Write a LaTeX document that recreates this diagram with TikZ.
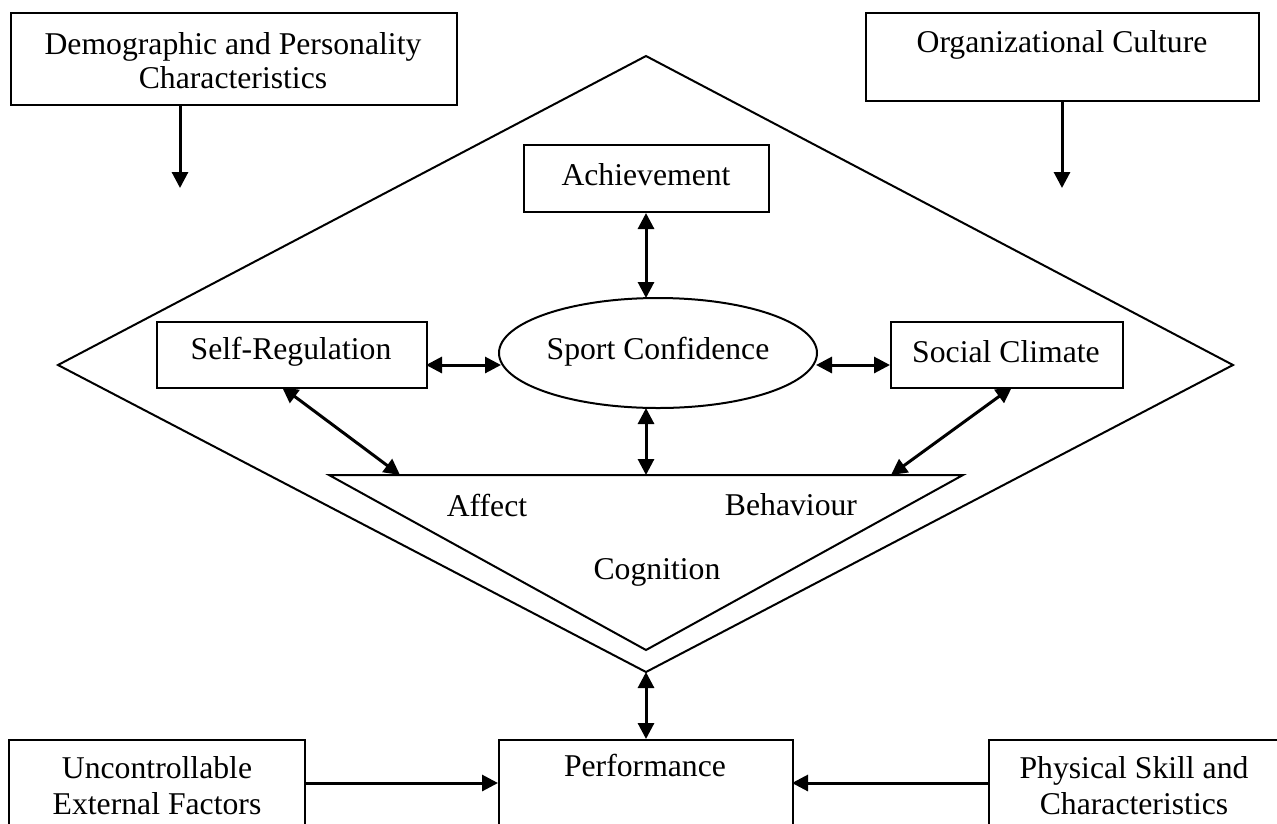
\documentclass[tikz,border=0pt]{standalone}
\usepackage{fontspec}
\setmainfont{Liberation Serif}
\usetikzlibrary{arrows.meta,shapes.geometric}
\begin{document}
\begin{tikzpicture}[x=1pt,y=-1pt,
  box/.style={draw,line width=2pt,inner sep=0pt,anchor=north west},
  txt/.style={font=\fontsize{31.7}{36}\selectfont,inner sep=0pt,align=center},
  arr/.style={line width=3pt,-{Triangle[length=16pt,width=16pt]}},
  dbl/.style={line width=3pt,{Triangle[length=16pt,width=16pt]}-{Triangle[length=16pt,width=16pt]}},
  outline/.style={line width=2pt,line join=miter}]
\useasboundingbox (0,0) rectangle (1277,823);
\clip (0,0) rectangle (1277,823);
\fill[white] (0,0) rectangle (1277,823);

% diamond
\coordinate (dT) at (646,56);
\coordinate (dL) at (58,365);
\coordinate (dR) at (1233,365);
\coordinate (dB) at (646,672);
\draw[outline] (dT) -- (dR) -- (dB) -- (dL) -- cycle;

% inverted triangle
\coordinate (tL) at (329,475);
\coordinate (tR) at (963,475);
\coordinate (tB) at (646,650);
\draw[outline] (tL) -- (tR) -- (tB) -- cycle;
\node[txt] (affect) at (487,505) {Affect};
\node[txt] (behav) at (791,505) {Behaviour};
\node[txt] (cogn) at (657,572) {Cognition};

% top boxes
\node[box,minimum width=446pt,minimum height=92pt] (demo) at (10,12) {};
\node[txt,font=\fontsize{31.7}{34}\selectfont] (demoT) at (233,61) {Demographic and Personality\\Characteristics};
\node[box,minimum width=393pt,minimum height=88pt] (org) at (865,12) {};
\node[txt] (orgT) at (1062,45) {Organizational Culture};
\coordinate (demoEnd) at (180,188);
\coordinate (orgEnd) at (1062,188);
\draw[arr] (demo.south -| demoEnd) -- (demoEnd);
\draw[arr] (org.south -| orgEnd) -- (orgEnd);

% inner nodes
\node[box,minimum width=245pt,minimum height=67pt] (ach) at (523,144) {};
\node[txt] (achT) at (646,175) {Achievement};
\node[draw,ellipse,line width=2pt,minimum width=318pt,minimum height=110pt,inner sep=0pt] (sc) at (658,353) {};
\node[txt] (scT) at (658,352) {Sport Confidence};
\node[box,minimum width=270pt,minimum height=66pt] (sr) at (156,321) {};
\node[txt] (srT) at (291,352) {Self-Regulation};
\node[box,minimum width=232pt,minimum height=66pt] (cl) at (890,321) {};
\node[txt] (clT) at (1006,352) {Social Climate};

% connectors inside
\coordinate (scN) at (646,298);
\coordinate (scS) at (646,408);
\coordinate (tM) at (646,475);
\draw[dbl] (ach.south -| scN) -- (scN);
\draw[dbl] (scS) -- (tM);
\coordinate (srE) at (426,365);
\coordinate (scW) at (501,365);
\coordinate (scE) at (816,365);
\coordinate (clW) at (890,365);
\draw[dbl] (srE) -- (scW);
\draw[dbl] (scE) -- (clW);
\coordinate (srB) at (282,387);
\coordinate (tA) at (400,475);
\coordinate (clB) at (1012,387);
\coordinate (tC) at (891,475);
\draw[dbl] (srB) -- (tA);
\draw[dbl] (clB) -- (tC);

% bottom boxes
\node[box,minimum width=296pt,minimum height=120pt] (unc) at (8,739) {};
\node[txt] (uncT) at (157,786) {Uncontrollable\\External Factors};
\node[box,minimum width=294pt,minimum height=120pt] (perf) at (498,739) {};
\node[txt] (perfT) at (645,765) {Performance};
\node[box,minimum width=300pt,minimum height=120pt] (phys) at (988,739) {};
\node[txt] (physT) at (1134,786) {Physical Skill and\\Characteristics};
\coordinate (perfN) at (646,739);
\draw[dbl] (dB) -- (perfN);
\coordinate (uncE) at (304,783);
\coordinate (perfW) at (498,783);
\coordinate (perfE) at (792,783);
\coordinate (physW) at (988,783);
\draw[arr] (uncE) -- (perfW);
\draw[arr] (physW) -- (perfE);
\end{tikzpicture}
\end{document}
